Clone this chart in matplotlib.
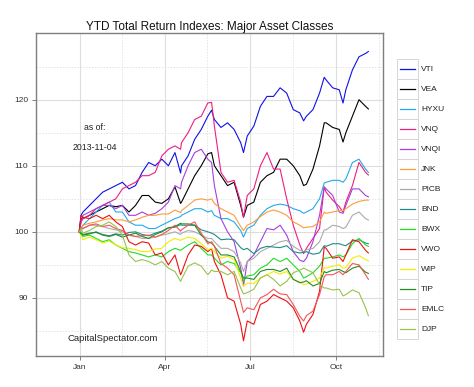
import matplotlib
matplotlib.use("Agg")
import matplotlib.pyplot as plt
from matplotlib.legend_handler import HandlerLine2D
from matplotlib.patches import Rectangle
from matplotlib.lines import Line2D
import pandas as pd

# ---------------- data ----------------
# weekly closes (Dec 31, Jan 2, every Friday, Nov 4)
week_dates = ([pd.Timestamp("2012-12-31"), pd.Timestamp("2013-01-02")]
              + list(pd.date_range("2013-01-04", "2013-11-01", freq="W-FRI"))
              + [pd.Timestamp("2013-11-04")])
# extra turning-point days
key_dates = [pd.Timestamp(d) for d in
             ["2013-04-18", "2013-05-21", "2013-06-24", "2013-08-27", "2013-09-18", "2013-10-08"]]

tickers = ["VTI", "VEA", "HYXU", "VNQ", "VNQI", "JNK", "PICB", "BND",
           "BWX", "VWO", "WIP", "TIP", "EMLC", "DJP"]

VTI = [100, 102.5, 103, 104, 105, 106, 106.5, 107, 107.5, 106.5, 107, 109, 110.5, 110, 111, 110,
       112, 110, 111.5, 114, 115.5, 117.5, 117, 115.8, 116.5, 115.5, 113.5, 114.5, 116, 119, 120.5,
       120.5, 121.8, 121, 118.5, 118, 117.5, 118.5, 121, 123, 121.8, 121.5, 121.5, 124.5, 126.5, 127, 127.3]
VEA = [100, 102, 102, 102.5, 103, 103.5, 104, 103.8, 104, 103, 104, 105.5, 105.5, 104.5, 104.3, 105,
       106.8, 104.5, 106.5, 108.5, 110, 111.8, 110, 108.5, 107, 107.5, 104, 104, 104.5, 107.5, 108.5,
       109, 111, 111, 110, 108.5, 107.2, 109.5, 113, 116.5, 115.8, 115.5, 115, 117.5, 120, 119, 118.6]
HYXU = [100, 100.5, 101, 102, 103, 104, 104.5, 103, 103, 101.5, 101, 101, 100.5, 100.5, 101, 101.5,
        102, 102.5, 103, 103.5, 103.5, 103, 102.5, 102, 102, 101.5, 100.2, 100.5, 101, 102.5, 103.5,
        104, 104.2, 104, 103.5, 103.2, 103, 103.5, 105, 107.5, 107.8, 107.8, 108, 110.5, 111, 109.5, 109]
VNQ = [100, 101.5, 102, 102.5, 103.5, 104, 104.5, 105, 106.5, 107, 107.5, 108.5, 108.5, 109, 111.5,
       112.5, 113, 113.5, 115, 117, 117.5, 119.5, 116, 109, 107.5, 107.8, 104.5, 105.5, 106.5, 110,
       112, 109.5, 109.5, 105, 101, 98, 97.5, 99, 100.5, 106, 104.8, 103.8, 104.5, 107, 110.5, 109, 108.6]
VNQI = [100, 101.5, 102.5, 103, 103.5, 104, 104, 103.5, 104, 102.5, 102.5, 103, 102.5, 102.8, 103.5,
        104.5, 107, 107.5, 110, 112, 112.5, 111, 107, 102, 100, 98.5, 94.5, 95.5, 96.5, 98.5, 100.5,
        100.3, 101, 99.5, 97, 95.7, 96, 98.5, 102.5, 106.5, 105.5, 103, 104, 106.5, 106.5, 105.5, 105.3]
JNK = [100, 100.5, 101, 101.3, 101.5, 101.8, 102, 101.8, 101.8, 101.5, 101.8, 102.2, 102.5, 102.5,
       102.7, 102.7, 103.3, 103.2, 104, 104.8, 105, 104.8, 104.3, 103.5, 103, 102.5, 100.8, 101, 101.5,
       102.3, 103, 103.3, 103, 102.5, 101.5, 101, 100.7, 100.8, 101.5, 102.8, 103, 103.2, 103.5, 104.2,
       104.6, 104.8, 104.8]
PICB = [100, 100.3, 100.5, 101, 101, 100.8, 100.5, 100.3, 100, 99.5, 99.3, 99, 99, 99.2, 99.5, 99.7,
        100, 99.8, 100.2, 100, 99.5, 99, 98.5, 97.5, 97.5, 97, 95.3, 95.5, 96, 97, 97.5, 98, 98.5,
        98.7, 97.8, 97.2, 97.3, 97.5, 98.5, 100.3, 101, 100.8, 100.7, 102.5, 103, 102, 101.8]
BND = [100, 99.8, 99.6, 99.8, 99.9, 99.6, 99.4, 99.7, 99.5, 99.9, 100, 99.6, 99.4, 99.8, 100.1,
       100.6, 100.7, 101, 101, 101, 100.3, 100, 99.6, 98.8, 98.9, 98.8, 97.6, 97.5, 96.7, 97.5, 97.8,
       97.7, 97.6, 97.9, 97, 96.8, 97, 96.6, 96.8, 97.8, 98.2, 98.2, 97.9, 98.6, 98.8, 98.3, 98.2]
BWX = [100, 100, 99.3, 99.5, 99, 98.5, 98.8, 98, 97.5, 97, 96.8, 96.5, 96.2, 96.5, 96.2, 97, 97.5,
       97.3, 98, 98.5, 97.5, 96.5, 96, 95, 95.5, 95.2, 93.8, 93.3, 93.5, 94.5, 95, 96, 95.5, 96, 95, 94,
       93.2, 93.8, 94.8, 96, 96.2, 96.5, 96.5, 98.2, 99, 98, 97.8]
VWO = [100, 102.5, 102.2, 102, 102.5, 102, 102.5, 101.5, 100.8, 98.5, 98, 98.5, 98.3, 96.5, 96.8,
       95, 96.5, 93.8, 96.5, 98, 97.8, 97, 95.5, 93.5, 90, 89.5, 86, 86.5, 86, 89, 89.5, 90.5, 90,
       89.5, 88.5, 86.5, 86, 87.5, 91, 97.5, 96, 96.2, 96.5, 98.8, 98.5, 97.2, 96.8]
WIP = [100, 99.5, 98.8, 99.2, 98.8, 98.3, 98.6, 98, 97.6, 97.5, 97.3, 97, 97, 97.4, 97.5, 98.5, 99,
       98.8, 99.2, 99, 98.2, 97.3, 97, 96, 96.3, 95.8, 93, 92.2, 92.2, 93, 93.5, 94, 93.6, 94, 92.8,
       92.4, 92.1, 92.5, 93, 94.5, 94.8, 95, 94.6, 96, 96.4, 95.8, 95.6]
TIP = [100, 99.7, 99.5, 99.7, 100, 99.5, 99.3, 99.6, 99.2, 99.5, 99.8, 99.3, 99, 99.6, 100, 100.6,
       100.8, 101.2, 101.2, 101, 99.5, 98.5, 97.8, 96.5, 96.5, 96.2, 94, 93, 92.8, 94, 94.3, 94.3,
       94, 94.5, 92.8, 92.3, 92.6, 91.8, 92.2, 93.8, 94.2, 94.3, 93.8, 94.5, 94.8, 93.9, 93.7]
EMLC = [100, 100.6, 100.5, 101, 101.2, 100.8, 101, 100.5, 100.2, 99.5, 99.3, 99.4, 99.5, 99.2, 99.6,
        100.2, 101, 100.3, 101, 101.5, 99.8, 98.2, 97.8, 95.2, 94.5, 93.5, 89.5, 88.5, 88.2, 90, 90.5,
        91.3, 90.6, 90.5, 89, 87.2, 87.3, 88, 90.5, 93.5, 93.5, 94, 94, 95.2, 95, 93.5, 92.8]
DJP = [100, 100.5, 99.8, 100.2, 100.8, 101, 101.5, 100.8, 99.5, 96.5, 95.5, 95.8, 95.5, 95, 95.5,
       94.5, 94, 92.8, 94.8, 95.3, 94.8, 93.5, 94, 94, 93.5, 94, 91.5, 90.8, 91.3, 93, 93.5, 92.8,
       91.8, 92.5, 93.8, 94.2, 94.3, 93.8, 92, 91.5, 91.2, 91.3, 90.5, 91.2, 90.8, 88.5, 87.3]

# values on the extra turning-point days (same order as key_dates)
VTI_key = [108.9, 118.4, 112.0, 116.8, 123.4, 119.5]
VEA_key = [104.3, 112.0, 102.2, 107.0, 116.5, 113.6]
HYXU_key = [102.3, 103.2, 99.2, 102.8, 107.4, 107.5]
VNQ_key = [112.5, 119.6, 102.2, 96.7, 106.8, 103.0]
VNQI_key = [106.5, 110.5, 91.8, 95.5, 106.8, 102.8]
JNK_key = [102.9, 105.0, 100.2, 100.6, 103.0, 103.2]
PICB_key = [99.6, 99.0, 94.0, 97.0, 100.3, 100.5]
BND_key = [101.1, 99.8, 97.3, 96.9, 97.9, 98.0]
BWX_key = [97.2, 96.5, 92.6, 93.0, 96.0, 96.2]
VWO_key = [93.5, 97.5, 83.5, 84.8, 97.7, 95.5]
WIP_key = [98.7, 97.5, 91.8, 92.0, 94.6, 94.5]
TIP_key = [101.3, 98.3, 93.0, 92.4, 94.0, 94.0]
EMLC_key = [100.1, 98.5, 87.8, 86.5, 93.2, 93.5]
DJP_key = [92.5, 94.2, 90.6, 94.5, 91.5, 90.3]

weekly = [VTI, VEA, HYXU, VNQ, VNQI, JNK, PICB, BND, BWX, VWO, WIP, TIP, EMLC, DJP]
extra = [VTI_key, VEA_key, HYXU_key, VNQ_key, VNQI_key, JNK_key, PICB_key, BND_key,
         BWX_key, VWO_key, WIP_key, TIP_key, EMLC_key, DJP_key]
colors = ["#1010E6", "#000000", "#22AAEE", "#EE1E82", "#A63FDB", "#FF9A3C", "#AAAAAA",
          "#1F8C8C", "#22DD22", "#EE1111", "#F2EE00", "#238B23", "#F2545B", "#99C24D"]

x_tick_dates = ["2013-01-01", "2013-04-01", "2013-07-01", "2013-10-01"]
x_tick_labels = ["Jan", "Apr", "Jul", "Oct"]
x_minor_dates = ["2012-11-15", "2013-02-15", "2013-05-16", "2013-08-16", "2013-11-15"]
y_ticks = [90, 100, 110, 120]
y_minor = [85, 95, 105, 115, 125]

title = "YTD Total Return Indexes: Major Asset Classes"
asof_label = "as of:"
asof_date = "2013-11-04"
source = "CapitalSpectator.com"

# ---------------- figure ----------------
plt.rcParams["font.family"] = ["Liberation Sans", "DejaVu Sans"]
W, H = 474, 387
fig = plt.figure(figsize=(W / 100, H / 100), dpi=100)
fig.patch.set_facecolor("white")
L, R, T, B = 36, 383, 33, 356
ax = fig.add_axes([L / W, 1 - B / H, (R - L) / W, (B - T) / H])

for wk, ex, col, name in zip(weekly, extra, colors, tickers):
    s = pd.concat([pd.Series(wk, index=week_dates),
                   pd.Series(ex, index=key_dates)]).sort_index()
    ax.plot(s.index, s.values, color=col, lw=0.8, label=name, zorder=3)

ax.set_xlim(pd.Timestamp("2012-12-16 02:00"), pd.Timestamp("2013-11-19 14:00"))
ax.set_ylim(81.2, 130.1)

ax.set_xticks([pd.Timestamp(d) for d in x_tick_dates])
ax.set_xticklabels(x_tick_labels)
ax.set_xticks([pd.Timestamp(d) for d in x_minor_dates], minor=True)
ax.set_yticks(y_ticks)
ax.set_yticks(y_minor, minor=True)

ax.grid(which="major", color="#DDDDDD", lw=0.8, ls="-", zorder=0)
ax.grid(which="minor", color="#E4E4E4", lw=0.7, ls=(0, (1.5, 1.5)), zorder=0)
ax.set_axisbelow(True)

for sp in ax.spines.values():
    sp.set_color("#7F7F7F")
    sp.set_linewidth(1.0)
ax.tick_params(which="major", length=3, width=0.7, color="#7F7F7F",
               labelsize=6, labelcolor="#333333", pad=2.5)
ax.tick_params(which="minor", length=0)

ax.set_title(title, fontsize=8.5, pad=1.5, color="#111111")

ax.text(0.170, 0.706, asof_label, transform=ax.transAxes, fontsize=6.3,
        ha="center", va="center", color="#222222")
ax.text(0.170, 0.644, asof_date, transform=ax.transAxes, fontsize=6.3,
        ha="center", va="center", color="#222222")
ax.text(0.092, 0.053, source, transform=ax.transAxes, fontsize=6.8,
        ha="left", va="center", color="#222222")


class KeyHandler(HandlerLine2D):
    def create_artists(self, legend, orig_handle, xdescent, ydescent, width, height,
                       fontsize, trans):
        x0, y0 = -xdescent, -ydescent
        rect = Rectangle((x0, y0), width, height, facecolor="white",
                         edgecolor="#D0D0D0", lw=0.6, transform=trans)
        yc = y0 + height / 2.0
        pad = width * 0.12
        ln = Line2D([x0 + pad, x0 + width - pad], [yc, yc],
                    color=orig_handle.get_color(), lw=0.9, transform=trans)
        return [rect, ln]


fs = 6.0
key_h_pt = 20 * 0.72
key_w_pt = 21 * 0.72
hh = (key_h_pt - 0.35 * 0.7 * fs) / (0.65 * fs)
leg = ax.legend(loc="upper left", bbox_to_anchor=(397 / W, 1 - 59 / H),
                bbox_transform=fig.transFigure, frameon=False, fontsize=fs,
                handlelength=key_w_pt / fs, handleheight=hh,
                labelspacing=0, handletextpad=0.35, borderpad=0, borderaxespad=0,
                handler_map={Line2D: KeyHandler()})
for t in leg.get_texts():
    t.set_color("#222222")

fig.savefig("out.png", dpi=100, facecolor="white")
